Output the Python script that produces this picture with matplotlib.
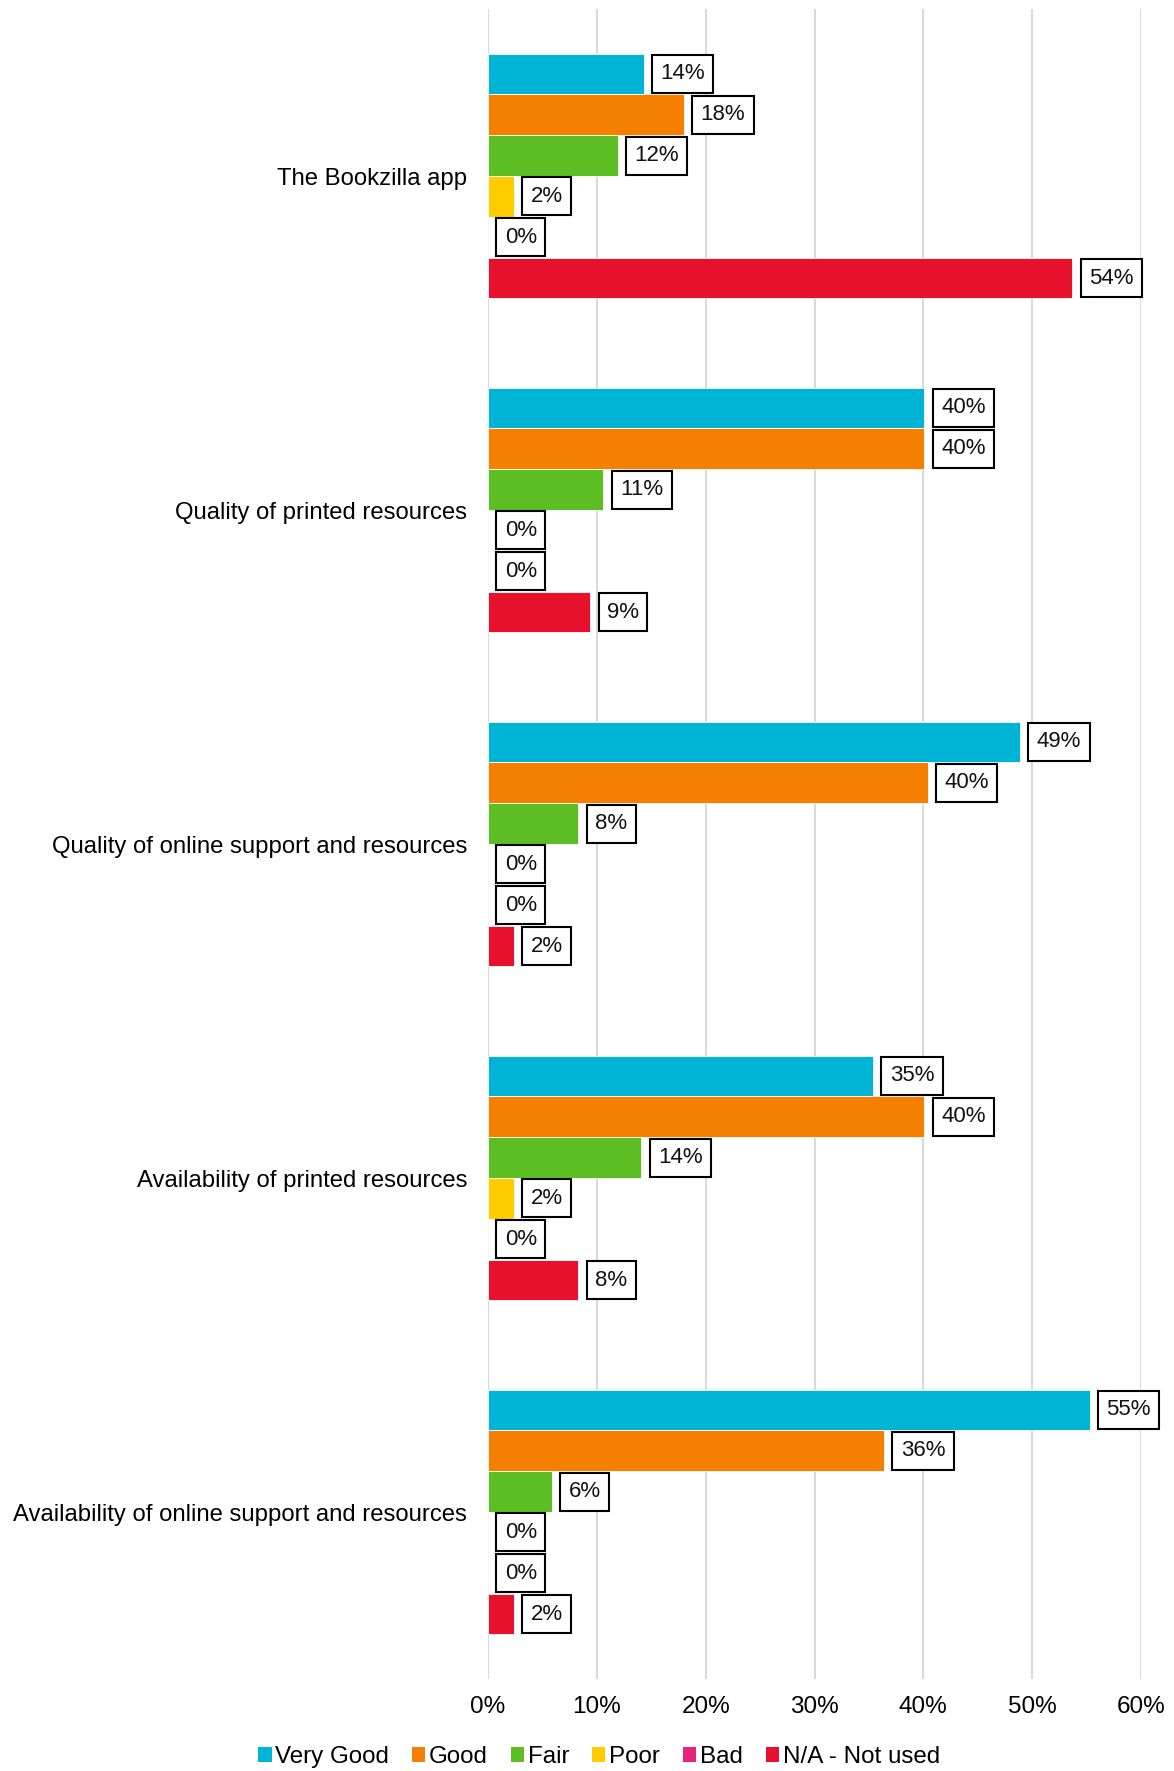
import numpy as np
import matplotlib
matplotlib.use("Agg")
import matplotlib.pyplot as plt
from matplotlib.patches import Patch

plt.rcParams["font.family"] = ["Liberation Sans", "DejaVu Sans"]

# survey items, top to bottom
CATEGORIES = [
    "The Bookzilla app",
    "Quality of printed resources",
    "Quality of online support and resources",
    "Availability of printed resources",
    "Availability of online support and resources",
]

RATINGS = ["Very Good", "Good", "Fair", "Poor", "Bad", "N/A - Not used"]
COLORS = ["#00B4D6", "#F47F00", "#5CBE22", "#FFCC00", "#E8237F", "#E8112D"]

# share of responses (%) per rating, one list per rating, in category order
VERY_GOOD = [14.3, 40.1, 48.9, 35.4, 55.3]
GOOD = [18.0, 40.1, 40.4, 40.1, 36.4]
FAIR = [11.9, 10.6, 8.3, 14.1, 5.9]
POOR = [2.4, 0.0, 0.0, 2.4, 0.0]
BAD = [0.0, 0.0, 0.0, 0.0, 0.0]
NOT_USED = [53.7, 9.4, 2.4, 8.3, 2.4]

SERIES = [VERY_GOOD, GOOD, FAIR, POOR, BAD, NOT_USED]
XTICKS = [0, 10, 20, 30, 40, 50, 60]

fig = plt.figure(figsize=(11.74, 17.71), dpi=100)
ax = fig.add_axes([488 / 1174, 1 - 1679 / 1771, (1141 - 488) / 1174, 1670 / 1771])

n = len(SERIES)
group_h = 0.733
bar_h = group_h / n
y = np.arange(len(CATEGORIES))

for i, (vals, col, name) in enumerate(zip(SERIES, COLORS, RATINGS)):
    pos = y - group_h / 2 + bar_h * (i + 0.5)
    ax.barh(pos, vals, height=bar_h, color=col, edgecolor="white",
            linewidth=0.6, label=name, zorder=2)
    for p, v in zip(pos, vals):
        ax.annotate(f"{v:.0f}%", xy=(v, p), xytext=(12, 0),
                    textcoords="offset points", ha="left", va="center",
                    fontsize=16, color="#111111", zorder=4,
                    bbox=dict(boxstyle="square,pad=0.38", fc="white",
                              ec="black", lw=1.5))

ax.set_xlim(0, 60)
ax.set_ylim(len(CATEGORIES) - 0.5, -0.5)
ax.set_xticks(XTICKS)
ax.set_xticklabels([f"{t}%" for t in XTICKS], fontsize=17.5)
ax.set_yticks(y)
ax.set_yticklabels(CATEGORIES, fontsize=17.2)
ax.tick_params(length=0)
ax.tick_params(axis="y", pad=15)
ax.tick_params(axis="x", pad=12)
ax.grid(axis="x", color="#D9D9D9", linewidth=1.5, zorder=0)
ax.set_axisbelow(True)
for s in ax.spines.values():
    s.set_visible(False)

handles = [Patch(facecolor=c, edgecolor="none") for c in COLORS]
fig.legend(handles, RATINGS, loc="center", bbox_to_anchor=(599 / 1174, 1 - 1757 / 1771),
           ncol=6, frameon=False, fontsize=17.4, handlelength=0.55, handleheight=0.55,
           handletextpad=0.15, columnspacing=0.95)

fig.savefig("out.png", dpi=100)
